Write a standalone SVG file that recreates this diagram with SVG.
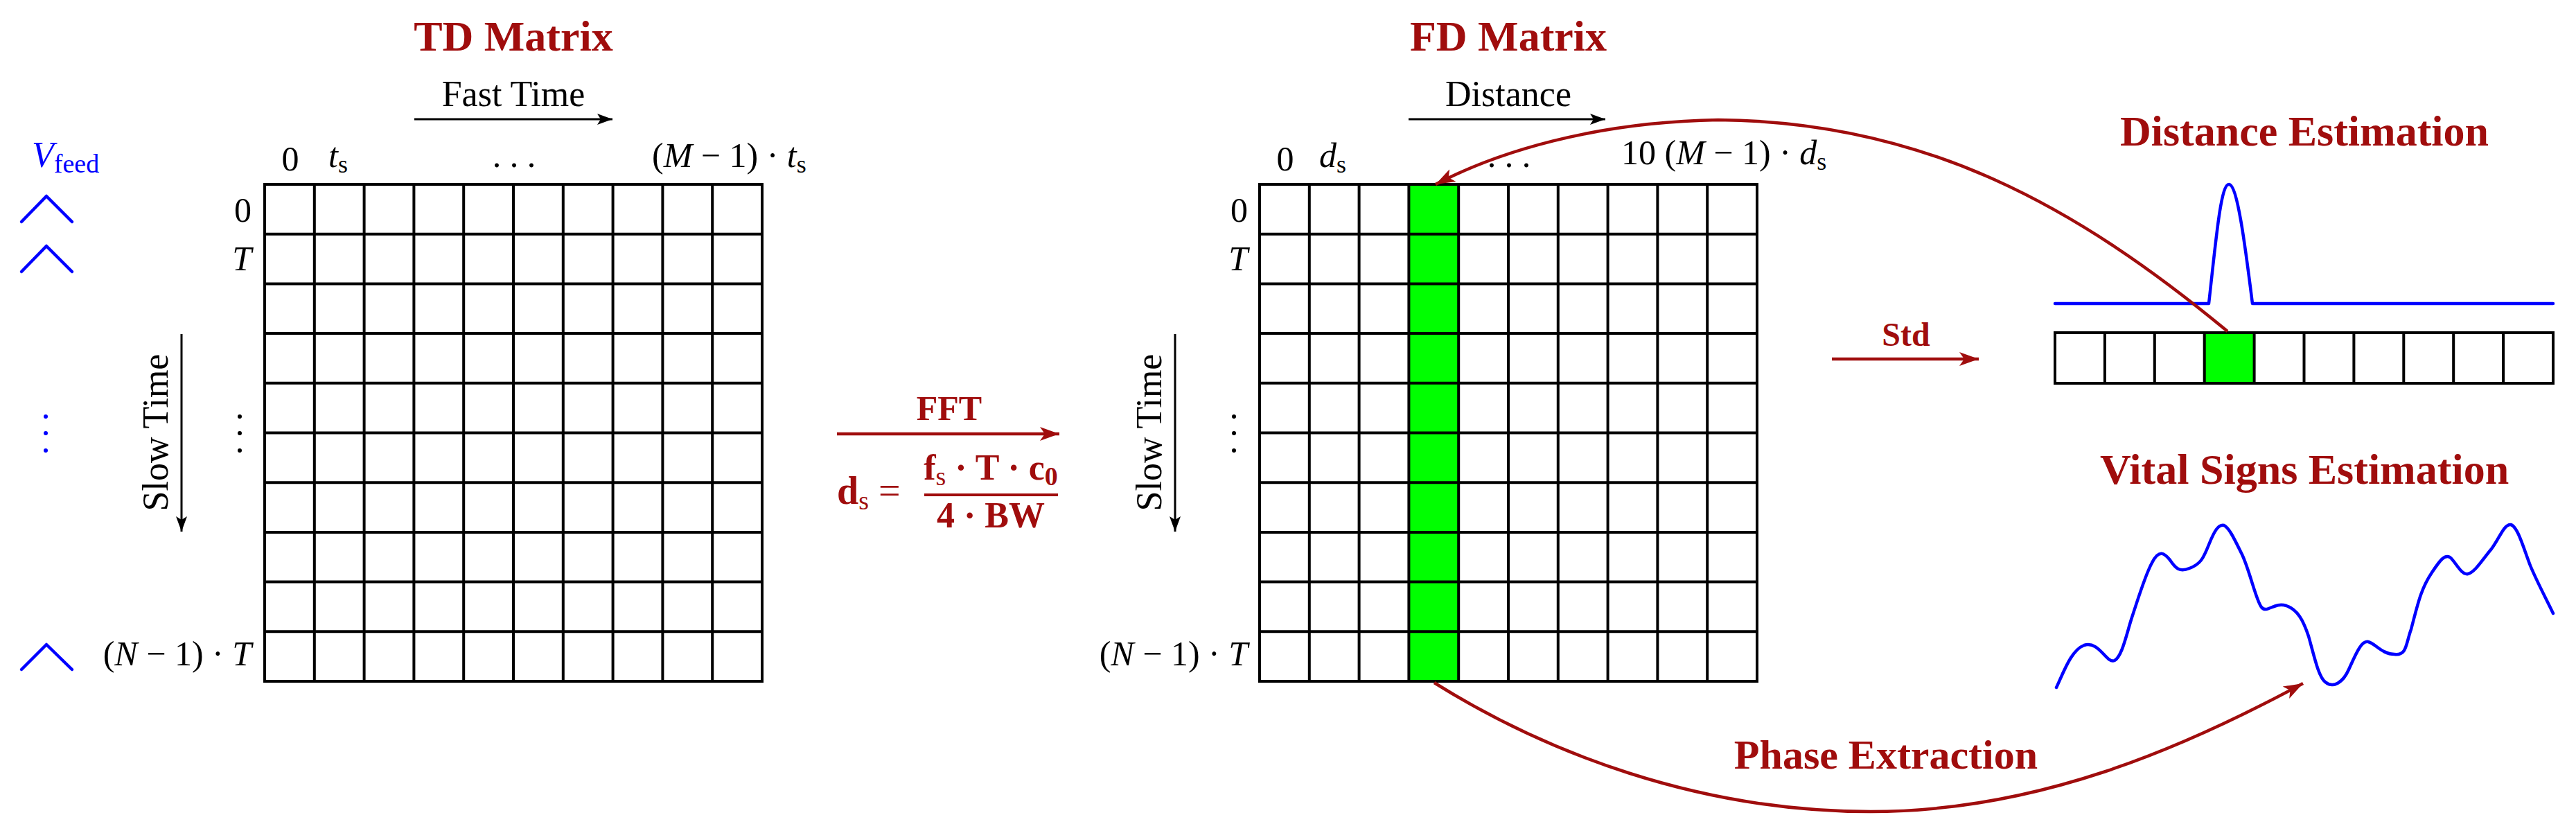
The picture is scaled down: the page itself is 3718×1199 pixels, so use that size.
<svg xmlns="http://www.w3.org/2000/svg" width="3718" height="1199" viewBox="0 0 3718 1199">
<style>
.bg{fill:#fff}
.cell{fill:none;stroke:#000;stroke-width:4}
.green{fill:#00ff00;stroke:none}
.t{font-family:"Liberation Serif",serif;fill:#000}
.it{font-style:italic}
.title{font-family:"Liberation Serif",serif;font-weight:bold;fill:#a00d0d;font-size:62px}
.red{font-family:"Liberation Serif",serif;font-weight:bold;fill:#a00d0d}
.blue{fill:none;stroke:#0000ff;stroke-width:4.5;stroke-linejoin:round;stroke-linecap:round}
.ax{stroke:#000;stroke-width:3;fill:none}
.rc{stroke:#a00d0d;stroke-width:4.5;fill:none}
</style>
<defs>
<marker id="abk" viewBox="-20 -10 24 20" refX="2" refY="0" markerWidth="24" markerHeight="20" markerUnits="userSpaceOnUse" orient="auto"><path d="M-20,-8 L2,0 L-20,8 L-15,0 Z" fill="#000"/></marker>
<marker id="ar" viewBox="-26 -12 30 24" refX="2" refY="0" markerWidth="30" markerHeight="24" markerUnits="userSpaceOnUse" orient="auto"><path d="M-26,-10 L2,0 L-26,10 L-19,0 Z" fill="#a00d0d"/></marker>
</defs>
<rect class="bg" x="0" y="0" width="3718" height="1199"/>

<g id="td-matrix">
<text class="title" x="741" y="73" text-anchor="middle">TD Matrix</text>
<path class="cell" d="M382,266H1100V983H382Z M453.8,266V983 M525.6,266V983 M597.4,266V983 M669.2,266V983 M741,266V983 M812.8,266V983 M884.6,266V983 M956.4,266V983 M1028.2,266V983 M382,337.7H1100 M382,409.4H1100 M382,481.1H1100 M382,552.8H1100 M382,624.5H1100 M382,696.2H1100 M382,767.9H1100 M382,839.6H1100 M382,911.3H1100"/>
<text class="t" x="741" y="153" font-size="52" text-anchor="middle">Fast Time</text>
<line class="ax" x1="598" y1="172" x2="884" y2="172" marker-end="url(#abk)"/>
<text class="t" x="419" y="246" font-size="50" text-anchor="middle">0</text>
<text class="t" x="474" y="241" font-size="50"><tspan class="it">t</tspan><tspan font-size="36" dy="8">s</tspan></text>
<text class="t" x="742" y="241" font-size="50" text-anchor="middle">. . .</text>
<text class="t" x="941" y="241" font-size="50">(<tspan class="it">M</tspan> − 1) · <tspan class="it">t</tspan><tspan font-size="36" dy="8">s</tspan></text>
<text class="t" x="363" y="320" font-size="50" text-anchor="end">0</text>
<text class="t it" x="363" y="390" font-size="50" text-anchor="end">T</text>
<g fill="#000"><circle cx="346" cy="601" r="3"/><circle cx="346" cy="625" r="3"/><circle cx="346" cy="650" r="3"/></g>
<text class="t" x="363" y="960" font-size="50" text-anchor="end">(<tspan class="it">N</tspan> − 1) · <tspan class="it">T</tspan></text>
<text class="t" transform="translate(242,624) rotate(-90)" font-size="52" text-anchor="middle">Slow Time</text>
<line class="ax" x1="262" y1="482" x2="262" y2="767" marker-end="url(#abk)"/>
</g>

<g id="vfeed">
<text x="46" y="241" font-family="Liberation Serif,serif" font-size="52" fill="#0000ff"><tspan font-style="italic">V</tspan><tspan font-size="38" dy="8">feed</tspan></text>
<polyline class="blue" points="31,320 67,283 104,320"/>
<polyline class="blue" points="31,392 67,355 104,392"/>
<polyline class="blue" points="31,966 67,930 104,966"/>
<g fill="#0000ff"><circle cx="66" cy="601" r="3"/><circle cx="66" cy="625" r="3"/><circle cx="66" cy="650" r="3"/></g>
</g>

<g id="fft">
<text class="red" x="1370" y="606" font-size="50" text-anchor="middle">FFT</text>
<text class="red" x="1208" y="727" font-size="56">d<tspan font-size="38" dy="8" font-weight="normal">s</tspan><tspan dy="-8" font-weight="normal" font-size="56"> =</tspan></text>
<text class="red" x="1430" y="692" font-size="52" text-anchor="middle">f<tspan font-size="38" dy="8" font-weight="normal">s</tspan><tspan dy="-8"> · T · c</tspan><tspan font-size="38" dy="8">0</tspan></text>
<line x1="1334" y1="714" x2="1527" y2="714" stroke="#a00d0d" stroke-width="4"/>
<text class="red" x="1430" y="761" font-size="52" text-anchor="middle">4 · BW</text>
</g>

<g id="fd-matrix">
<text class="title" x="2177" y="73" text-anchor="middle">FD Matrix</text>
<rect class="green" x="2034" y="266" width="72" height="717"/>
<path class="cell" d="M1818,266H2536V983H1818Z M1889.8,266V983 M1961.6,266V983 M2033.4,266V983 M2105.2,266V983 M2177,266V983 M2248.8,266V983 M2320.6,266V983 M2392.4,266V983 M2464.2,266V983 M1818,337.7H2536 M1818,409.4H2536 M1818,481.1H2536 M1818,552.8H2536 M1818,624.5H2536 M1818,696.2H2536 M1818,767.9H2536 M1818,839.6H2536 M1818,911.3H2536"/>
<text class="t" x="2177" y="153" font-size="52" text-anchor="middle">Distance</text>
<line class="ax" x1="2033" y1="172" x2="2317" y2="172" marker-end="url(#abk)"/>
<text class="t" x="1855" y="246" font-size="50" text-anchor="middle">0</text>
<text class="t" x="1904" y="241" font-size="50"><tspan class="it">d</tspan><tspan font-size="36" dy="8">s</tspan></text>
<text class="t" x="2178" y="241" font-size="50" text-anchor="middle">. . .</text>
<text class="t" x="2340" y="237" font-size="50">10 (<tspan class="it">M</tspan> − 1) · <tspan class="it">d</tspan><tspan font-size="36" dy="8">s</tspan></text>
<text class="t" x="1801" y="320" font-size="50" text-anchor="end">0</text>
<text class="t it" x="1801" y="390" font-size="50" text-anchor="end">T</text>
<g fill="#000"><circle cx="1781" cy="601" r="3"/><circle cx="1781" cy="625" r="3"/><circle cx="1781" cy="650" r="3"/></g>
<text class="t" x="1801" y="960" font-size="50" text-anchor="end">(<tspan class="it">N</tspan> − 1) · <tspan class="it">T</tspan></text>
<text class="t" transform="translate(1676,624) rotate(-90)" font-size="52" text-anchor="middle">Slow Time</text>
<line class="ax" x1="1696" y1="482" x2="1696" y2="767" marker-end="url(#abk)"/>
</g>

<g id="distance-estimation">
<text class="title" x="3326" y="210" text-anchor="middle" font-size="64">Distance Estimation</text>
<path class="blue" d="M2966,438 H3182 L3188,438 C3198,350 3205,266 3217,266 C3229,266 3240,350 3251,438 H3685" stroke-linejoin="miter"/>
<rect class="green" x="3182" y="480" width="72" height="73"/>
<path class="cell" d="M2966,480H3685V553H2966Z M3037.9,480V553 M3109.8,480V553 M3181.7,480V553 M3253.6,480V553 M3325.5,480V553 M3397.4,480V553 M3469.3,480V553 M3541.2,480V553 M3613.1,480V553"/>
</g>

<g id="vital-signs">
<text class="title" x="3326" y="698" text-anchor="middle" font-size="64">Vital Signs Estimation</text>
<path class="blue" d="M2968,992 C2980,966 2990,938 3008,931 C3030,924 3040,958 3052,953 C3062,948 3068,920 3076,894 C3086,864 3096,830 3106,812 C3116,792 3124,798 3132,808 C3140,820 3146,826 3160,820 C3176,814 3180,806 3188,786 C3196,766 3202,756 3210,758 C3218,762 3226,780 3236,800 C3248,826 3256,866 3264,876 C3272,886 3282,868 3300,874 C3316,880 3324,894 3332,918 C3340,946 3346,976 3356,984 C3368,994 3382,984 3390,966 C3400,944 3408,924 3418,926 C3428,928 3438,944 3456,944 C3474,946 3472,930 3480,908 C3490,870 3494,850 3510,826 C3522,808 3528,800 3536,804 C3544,810 3552,830 3562,828 C3572,826 3584,806 3596,792 C3608,776 3614,756 3624,757 C3634,760 3642,790 3652,816 C3662,840 3674,862 3685,885"/>
</g>

<g id="connectors">
<line class="rc" x1="1208" y1="626" x2="1529" y2="626" marker-end="url(#ar)"/>
<line class="rc" x1="2644" y1="518" x2="2856" y2="518" marker-end="url(#ar)"/>
<text class="red" x="2751" y="499" font-size="48" text-anchor="middle">Std</text>
<path class="rc" d="M3215,478 C3000,300 2780,175 2480,173 C2300,176 2160,220 2072,266" marker-end="url(#ar)"/>
<path class="rc" d="M2070,985 C2230,1085 2450,1171 2700,1171 C2940,1171 3150,1080 3324,986" marker-end="url(#ar)"/>
<text class="red" x="2722" y="1109" font-size="60" text-anchor="middle">Phase Extraction</text>
</g>
</svg>
